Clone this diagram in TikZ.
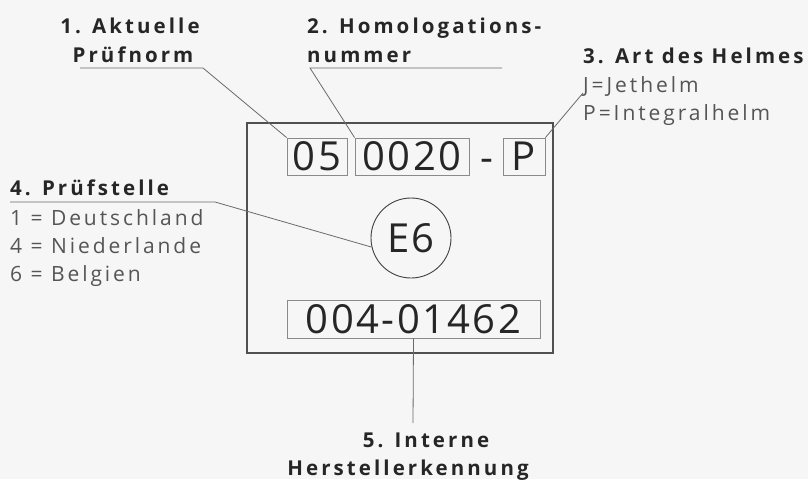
\documentclass[tikz,border=0pt]{standalone}
\usepackage{fontspec}
\setmainfont{Open Sans}
\newfontfamily\lblfont[LetterSpace=15]{Open Sans}
\newfontfamily\subfont[LetterSpace=14]{Open Sans}
\newfontfamily\boxfont[LetterSpace=6]{Open Sans}
\definecolor{bgc}{HTML}{F6F6F6}
\definecolor{lab}{HTML}{262626}
\definecolor{sub}{HTML}{555555}
\definecolor{lnc}{HTML}{6A6A6A}
\definecolor{bxc}{HTML}{8A8A8A}
\definecolor{frm}{HTML}{505050}
\begin{document}
\begin{tikzpicture}[x=1pt,y=-1pt,
  boldlab/.style={text=lab,font=\lblfont\bfseries\fontsize{20.5}{28}\selectfont,inner sep=0pt},
  sublab/.style={text=sub,font=\subfont\fontsize{21}{28}\selectfont,inner sep=0pt,anchor=base west},
  numbox/.style={draw=bxc,line width=0.9pt,text=black!85,font=\boxfont\fontsize{40}{40}\selectfont,inner sep=0pt},
  conn/.style={draw=lnc,line width=0.8pt}]
\fill[bgc] (0,0) rectangle (808,479);
\useasboundingbox (0,0) rectangle (808,479);
% frame
\node[draw=frm,line width=2.2pt,minimum width=306pt,minimum height=230pt,inner sep=0pt] (frame) at (400,238) {};
% boxes
\node[numbox,minimum width=60pt,minimum height=37pt] (b05) at (317,156.5) {05};
\node[numbox,minimum width=114pt,minimum height=37pt] (b0020) at (412,156.5) {0020};
\node[text=black!85,font=\boxfont\fontsize{40}{40}\selectfont,inner sep=0pt,anchor=base] (dash) at (487,171) {-};
\node[numbox,minimum width=42pt,minimum height=37pt] (bP) at (524,156.5) {P};
\node[draw=black!75,line width=0.9pt,circle,minimum size=80pt,inner sep=0pt,text=black!85,font=\boxfont\fontsize{40}{40}\selectfont] (e6) at (411,238) {E6};
\node[numbox,minimum width=253pt,minimum height=38pt] (bnum) at (413.5,319) {004-01462};
% labels
\node[boldlab,anchor=base] (l1a) at (130,33) {1. Aktuelle};
\node[boldlab,anchor=base] (l1b) at (133,62) {Prüfnorm};
\node[boldlab,anchor=base west] (l2a) at (307,33) {2. Homologations-};
\node[boldlab,anchor=base west] (l2b) at (307,62) {nummer};
\node[boldlab,anchor=base west] (l3) at (583,63) {3. Art des Helmes};
\node[sublab] (l3a) at (583,92) {J=Jethelm};
\node[sublab] (l3b) at (583,120) {P=Integralhelm};
\node[boldlab,anchor=base west] (l4) at (10,195) {4. Prüfstelle};
\node[sublab] (l4a) at (10,225) {1 = Deutschland};
\node[sublab] (l4b) at (10,253) {4 = Niederlande};
\node[sublab] (l4c) at (10,281) {6 = Belgien};
\node[boldlab,anchor=base] (l5a) at (426,447) {5. Interne};
\node[boldlab,anchor=base] (l5b) at (408,475) {Herstellerkennung};
% connector helper points
\coordinate (u1s) at (80,68);
\coordinate (u1e) at (203,68);
\coordinate (u2s) at (310,68);
\coordinate (u2e) at (502,68);
\coordinate (u3) at (583,93);
\coordinate (u4s) at (10,202);
\coordinate (u4e) at (215,202);
\coordinate (u5) at (413,423);
% connectors
\draw[conn] (u1s) -- (u1e) -- (b05.north west);
\draw[conn] (u2e) -- (u2s) -- (b0020.north west);
\draw[conn] (u3) -- (bP.north east);
\draw[conn] (u4s) -- (u4e) -- (e6.193);
\draw[conn] (bnum.south) -- (u5);
\end{tikzpicture}
\end{document}
